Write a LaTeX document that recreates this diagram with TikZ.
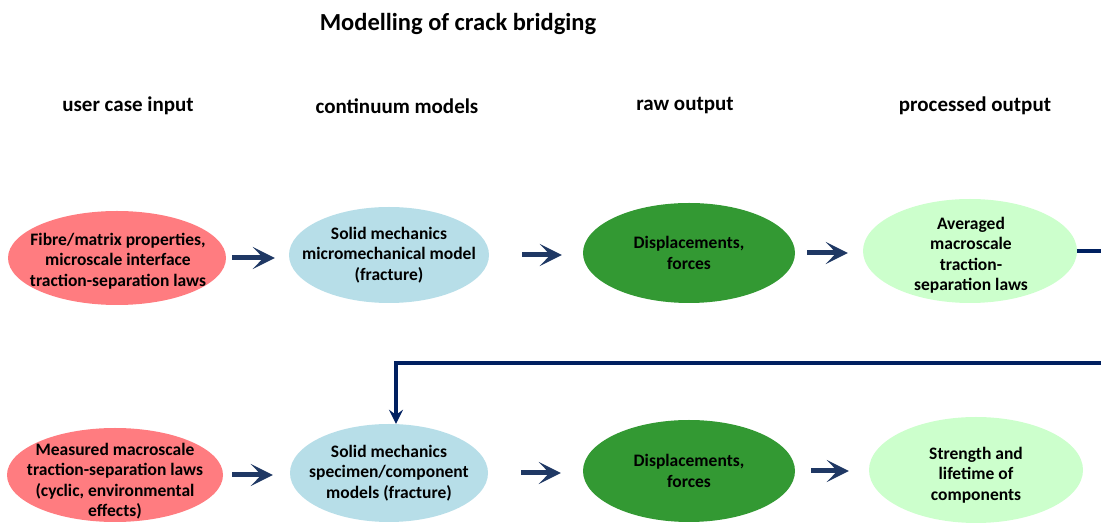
\documentclass[tikz,border=0pt]{standalone}
\usepackage{fontspec}
\setmainfont{Carlito}
\usetikzlibrary{shapes.geometric,arrows.meta}
\definecolor{cred}{HTML}{FF7C80}
\definecolor{cblue}{HTML}{B7DEE8}
\definecolor{cdgreen}{HTML}{339933}
\definecolor{clgreen}{HTML}{CCFFCC}
\definecolor{cnavy}{HTML}{1F3864}
\definecolor{cline}{HTML}{002060}
\tikzset{
  ell/.style={ellipse, draw=none, inner sep=0pt},
  txt/.style={align=center, font=\fontsize{17.5}{20.5}\selectfont\bfseries, text=black, inner sep=0pt},
  hdr/.style={font=\fontsize{21}{24}\selectfont\bfseries, text=black},
  flow/.style={draw=cnavy, line width=5pt, -{Stealth[length=22pt,width=22pt,inset=10.5pt]}},
  fb/.style={draw=cline, line width=3.5pt},
}
\begin{document}
\begin{tikzpicture}[x=1pt,y=1pt]
\useasboundingbox (0,0) rectangle (1101,527);
\node[font=\fontsize{24.5}{28}\selectfont\bfseries] (title) at (458,503) {Modelling of crack bridging};
\node[hdr] (h1) at (128,421) {user case input};
\node[hdr] (h2) at (397,421) {continuum models};
\node[hdr] (h3) at (685,421) {raw output};
\node[hdr] (h4) at (975,421) {processed output};
% row 1
\node[ell, fill=cred, minimum width=218, minimum height=94] (a1) at (117,269) {};
\node[ell, fill=cblue, minimum width=200, minimum height=96] (b1) at (389,272) {};
\node[ell, fill=cdgreen, minimum width=212, minimum height=100] (c1) at (689,274) {};
\node[ell, fill=clgreen, minimum width=214, minimum height=104] (d1) at (970,276) {};
\node[txt] (ta1) at (118,266) {Fibre/matrix properties,\\microscale interface\\traction-separation laws};
\node[txt] (tb1) at (b1) {Solid mechanics\\micromechanical model\\(fracture)};
\node[txt] (tc1) at (c1) {Displacements,\\forces};
\node[txt] (td1) at (971,272) {Averaged\\macroscale\\traction-\\separation laws};
% row 2
\node[ell, fill=cred, minimum width=216, minimum height=94] (a2) at (115,52) {};
\node[ell, fill=cblue, minimum width=198, minimum height=98] (b2) at (389,54) {};
\node[ell, fill=cdgreen, minimum width=212, minimum height=102] (c2) at (689,56) {};
\node[ell, fill=clgreen, minimum width=214, minimum height=106] (d2) at (976,57) {};
\node[txt] (ta2) at (115,46) {Measured macroscale\\traction-separation laws\\(cyclic, environmental\\effects)};
\node[txt] (tb2) at (b2) {Solid mechanics\\specimen/component\\models (fracture)};
\node[txt] (tc2) at (c2) {Displacements,\\forces};
\node[txt] (td2) at (976,52) {Strength and\\lifetime of\\components};
% arrows
\draw[flow, shorten <=6pt, shorten >=14pt] (a1.east) -- (a1.east -| b1.west);
\draw[flow, shorten <=33pt, shorten >=21pt] (b1.east) -- (b1.east -| c1.west);
\draw[flow, shorten <=12pt, shorten >=15pt] (c1.east) -- (c1.east -| d1.west);
\draw[flow, shorten <=9pt, shorten >=17pt] (a2.east) -- (a2.east -| b2.west);
\draw[flow, shorten <=33pt, shorten >=22pt] (b2.east) -- (b2.east -| c2.west);
\draw[flow, shorten <=16pt, shorten >=20pt] (c2.east) -- (c2.east -| d2.west);
% feedback
\coordinate (r1) at (1101,275);
\coordinate (r2) at (1101,164);
\draw[fb] (d1.east) -- (d1.east -| r1);
\draw[fb, -{Stealth[length=14pt,width=14pt,inset=5pt]}] (r2) -| ([xshift=7pt]b2.north);
\end{tikzpicture}
\end{document}
